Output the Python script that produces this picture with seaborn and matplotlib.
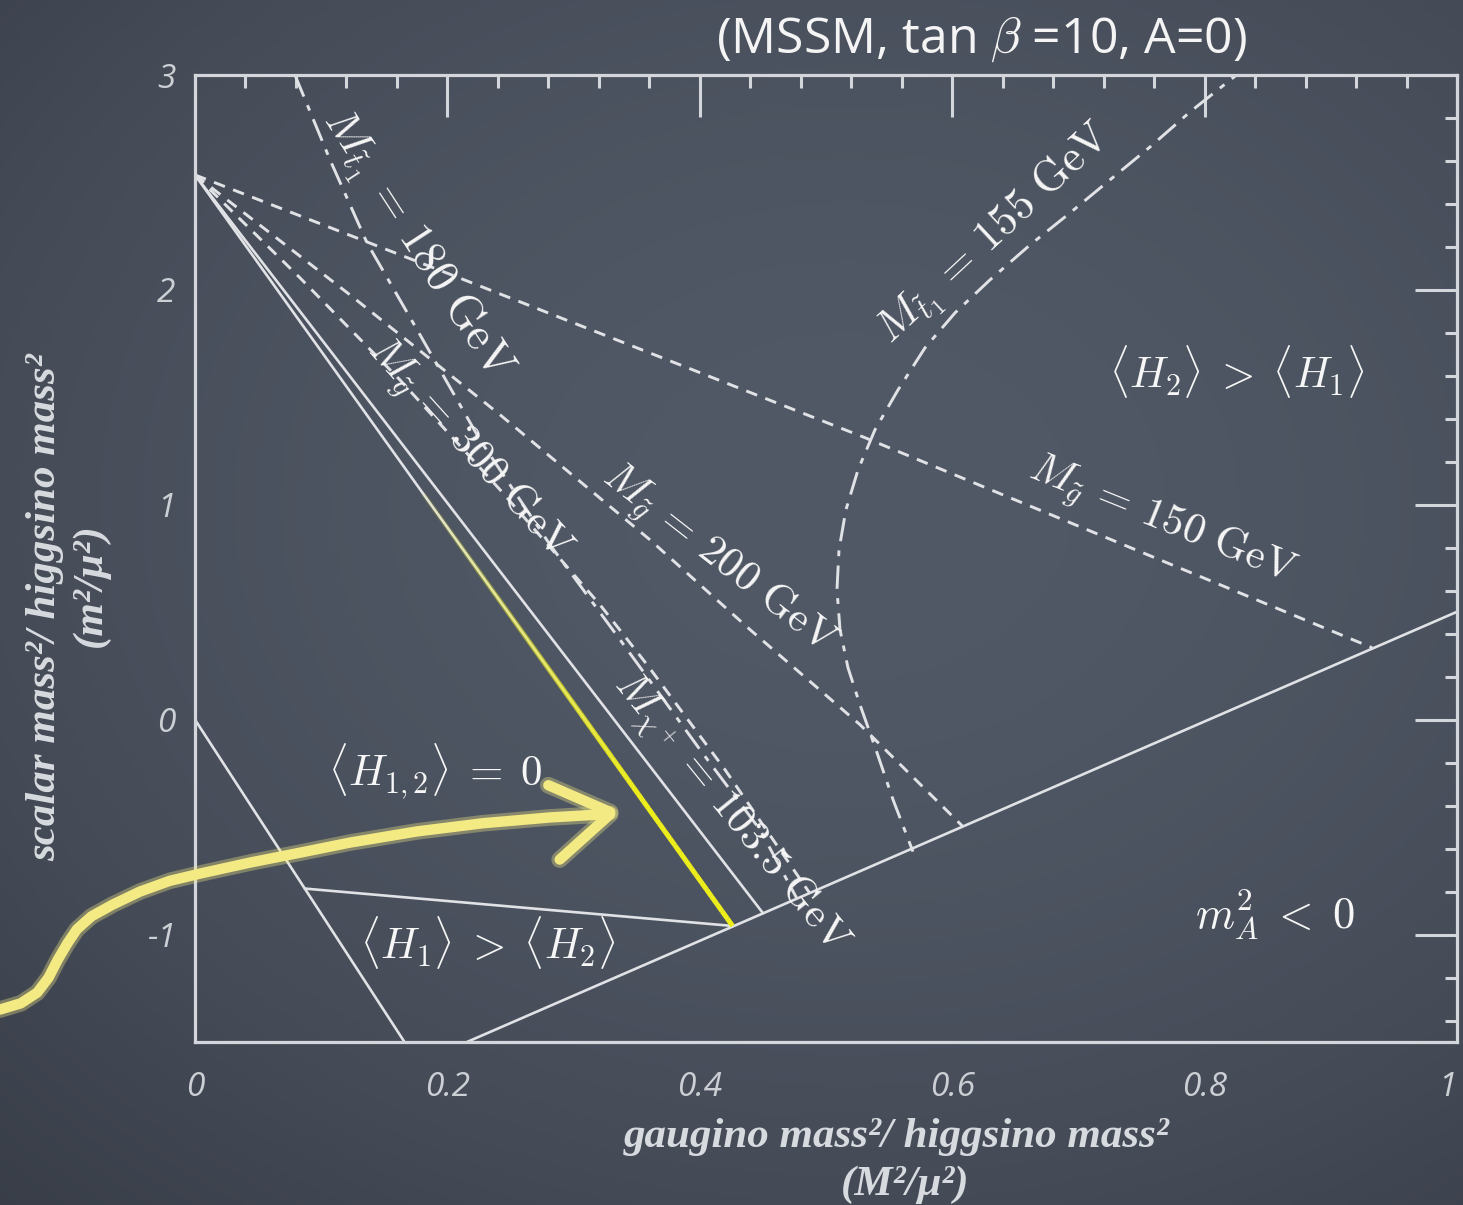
import numpy as np
import matplotlib
matplotlib.use("Agg")
import matplotlib.pyplot as plt
import matplotlib.patheffects as pe
from matplotlib.ticker import MultipleLocator
from matplotlib.collections import LineCollection
import seaborn as sns

# ---- region boundaries (x = M^2/mu^2, y = m^2/mu^2) ----
vev_zero_x = [0.0, 0.166]
vev_zero_y = [0.0, -1.5]
ma_neg_x = [0.2155, 1.0]
ma_neg_y = [-1.5, 0.502]
h1_h2_x = [0.087, 0.426]
h1_h2_y = [-0.786, -0.960]
edge_x = [0.0, 0.426]
edge_y = [2.535, -0.960]
chargino_x = [0.0, 0.450]
chargino_y = [2.535, -0.900]

# ---- gluino mass contours ----
gluino150_x = [0.0, 0.2076, 0.5293, 0.9327]
gluino150_y = [2.535, 2.060, 1.316, 0.335]
gluino200_x = [0.0, 0.1228, 0.2417, 0.3605, 0.4398, 0.5269, 0.6086]
gluino200_y = [2.535, 1.977, 1.419, 0.837, 0.419, -0.023, -0.498]
gluino300_x = [0.0, 0.0832, 0.1624, 0.2417, 0.3209, 0.3582, 0.4200, 0.4873]
gluino300_y = [2.535, 2.056, 1.581, 1.070, 0.535, 0.256, -0.233, -0.809]

# ---- stop mass contours ----
stop180_x = [0.0792, 0.1070, 0.1363, 0.1783, 0.2258, 0.2813, 0.3368, 0.4002, 0.4477, 0.4770]
stop180_y = [3.000, 2.605, 2.219, 1.791, 1.302, 0.814, 0.372, -0.140, -0.512, -0.833]
stop155_x = [0.8360, 0.7884, 0.7567, 0.7250, 0.6933, 0.6616, 0.6300, 0.6022, 0.5784,
             0.5571, 0.5388, 0.5254, 0.5158, 0.5103, 0.5087, 0.5111, 0.5174, 0.5269,
             0.5396, 0.5531, 0.5689]
stop155_y = [3.050, 2.828, 2.665, 2.512, 2.358, 2.209, 2.047, 1.893, 1.730,
             1.535, 1.349, 1.163, 0.977, 0.791, 0.605, 0.419, 0.242, 0.070,
             -0.140, -0.372, -0.614]

# highlighted stretch of the edge line (in y)
highlight_y_range = [1.05, -0.960]

# chalk arrow pointing at the highlighted edge
arrow_x = [-0.1545, -0.1380, -0.1250, -0.1160, -0.1090, -0.1010, -0.0935, -0.0820,
           -0.0650, -0.0436, -0.0200, 0.0050, 0.0436, 0.0832, 0.1228, 0.1759,
           0.2282, 0.2813, 0.3250]
arrow_y = [-1.349, -1.320, -1.270, -1.200, -1.120, -1.040, -0.975, -0.915,
           -0.860, -0.800, -0.750, -0.715, -0.665, -0.619, -0.572, -0.520,
           -0.482, -0.455, -0.440]
arrow_head1_x = [0.2800, 0.3290]
arrow_head1_y = [-0.305, -0.430]
arrow_head2_x = [0.3290, 0.2890]
arrow_head2_y = [-0.440, -0.651]

x_ticks = [0.0, 0.2, 0.4, 0.6, 0.8, 1.0]
x_tick_labels = ["0", "0.2", "0.4", "0.6", "0.8", "1"]
y_ticks = [-1, 0, 1, 2, 3]
y_tick_labels = ["-1", "0", "1", "2", "3"]

sns.set_style("dark")
plt.rcParams["mathtext.fontset"] = "cm"
plt.rcParams["font.family"] = ["DejaVu Sans"]

W, H = 1463, 1205
fig = plt.figure(figsize=(W / 100, H / 100), dpi=100)

# slate chalkboard backdrop
bg = fig.add_axes([0, 0, 1, 1], zorder=-10)
gy, gx = np.mgrid[0:1:400j, 0:1:480j]
r = np.sqrt(((gx - 0.58) / 0.85) ** 2 + ((gy - 0.42) / 0.80) ** 2)
r = np.clip(r, 0, 1) ** 2.0
c0 = np.array([0.318, 0.348, 0.400])
c1 = np.array([0.220, 0.240, 0.280])
img = c0[None, None, :] + (c1 - c0)[None, None, :] * r[..., None]
bg.imshow(img, extent=[0, 1, 0, 1], aspect="auto", origin="upper")
bg.set_axis_off()

ax = fig.add_axes([195 / W, 1 - 1042 / H, (1457 - 195) / W, (1042 - 75) / H])
ax.set_facecolor("none")
ax.set_xlim(0, 1)
ax.set_ylim(-1.5, 3)

axis_col = "#d3d6db"
line_col = "#e0e2e6"
text_col = "#f6f6f6"

for sp in ax.spines.values():
    sp.set_visible(True)
    sp.set_color(axis_col)
    sp.set_linewidth(2.3)

ax.set_xticks(x_ticks)
ax.set_xticklabels(x_tick_labels)
ax.set_yticks(y_ticks)
ax.set_yticklabels(y_tick_labels)
ax.xaxis.set_minor_locator(MultipleLocator(0.04))
ax.yaxis.set_minor_locator(MultipleLocator(0.2))
ax.tick_params(which="both", direction="in", top=True, right=True,
               color=axis_col, width=2.2)
ax.tick_params(which="major", length=30)
ax.tick_params(which="minor", length=9)
ax.tick_params(axis="x", which="major", pad=21)
ax.tick_params(axis="y", which="major", pad=14)
for lab in ax.get_xticklabels() + ax.get_yticklabels():
    lab.set_fontfamily("Open Sans")
    lab.set_fontstyle("italic")
    lab.set_fontsize(24)
    lab.set_color("#ccd0d5")
# keep the last x label inside the canvas
ax.get_xticklabels()[-1].set_horizontalalignment("right")
ax.grid(False)
ax.set_xlabel("")
ax.set_ylabel("")

solid_kw = dict(sort=False, estimator=None, color=line_col, linewidth=1.9, ax=ax)
for xs, ys in [(vev_zero_x, vev_zero_y), (ma_neg_x, ma_neg_y), (h1_h2_x, h1_h2_y),
               (edge_x, edge_y), (chargino_x, chargino_y)]:
    sns.lineplot(x=xs, y=ys, **solid_kw)

dash_gluino = (0, (4.0, 3.0))
for xs, ys in [(gluino150_x, gluino150_y), (gluino200_x, gluino200_y),
               (gluino300_x, gluino300_y)]:
    sns.lineplot(x=xs, y=ys, sort=False, estimator=None, color=line_col,
                 linewidth=2.1, linestyle=dash_gluino, ax=ax)

dash_stop = (0, (8.0, 3.2, 2.0, 3.2))
for xs, ys in [(stop180_x, stop180_y), (stop155_x, stop155_y)]:
    sns.lineplot(x=xs, y=ys, sort=False, estimator=None, color=line_col,
                 linewidth=2.1, linestyle=dash_stop, ax=ax)

# yellow highlight along the edge line, strengthening toward its lower end
hy = np.linspace(highlight_y_range[0], highlight_y_range[1], 60)
hx = np.interp(hy, edge_y[::-1], edge_x[::-1])
pts = np.column_stack([hx, hy]).reshape(-1, 1, 2)
segs = np.concatenate([pts[:-1], pts[1:]], axis=1)
alphas = np.clip(np.linspace(0.1, 1.4, len(segs)), 0, 1)
cols = [(0.93, 0.93, 0.10, a) for a in alphas]
ax.add_collection(LineCollection(segs, colors=cols, linewidths=3.6, zorder=4))

# labels
lab_kw = dict(color=text_col, ha="center", va="center", zorder=6)
ax.text(0.1743, 2.209, r"$M_{\tilde{t}_1}\,=\,180\ \mathrm{GeV}$", rotation=-57,
        fontsize=33, **lab_kw)
ax.text(0.2163, 1.256, r"$M_{\tilde{g}}\,=\,300\ \mathrm{GeV}$", rotation=-48,
        fontsize=31, **lab_kw)
ax.text(0.4144, 0.744, r"$M_{\tilde{g}}\,=\,200\ \mathrm{GeV}$", rotation=-38,
        fontsize=31, **lab_kw)
ax.text(0.7662, 0.921, r"$M_{\tilde{g}}\,=\,150\ \mathrm{GeV}$", rotation=-22,
        fontsize=31, **lab_kw)
ax.text(0.6339, 2.256, r"$M_{\tilde{t}_1}\,=\,155\ \mathrm{GeV}$", rotation=43,
        fontsize=32, **lab_kw)
ax.text(0.4239, -0.442, r"$M_{\chi^+}\,=\,103.5\ \mathrm{GeV}$", rotation=-51,
        fontsize=31, **lab_kw)
ax.text(0.1902, -0.242, r"$\langle H_{1,2}\rangle\;=\;0$", fontsize=31, **lab_kw)
ax.text(0.2322, -1.037, r"$\langle H_1\rangle\;>\;\langle H_2\rangle$", fontsize=31, **lab_kw)
ax.text(0.8257, 1.619, r"$\langle H_2\rangle\;>\;\langle H_1\rangle$", fontsize=31, **lab_kw)
ax.text(0.8558, -0.907, r"$m_A^2\;<\;0$", fontsize=32, **lab_kw)

# chalk arrow
chalk = "#f3ea84"
arrow_fx = [pe.Stroke(linewidth=12, foreground=chalk, alpha=0.35), pe.Normal()]
for xs, ys in [(arrow_x, arrow_y), (arrow_head1_x, arrow_head1_y),
               (arrow_head2_x, arrow_head2_y)]:
    ax.plot(xs, ys, color=chalk, linewidth=7.5, solid_capstyle="round",
            solid_joinstyle="round", clip_on=False, zorder=7, path_effects=arrow_fx)

# axis titles
ax_lab = dict(color="#d7dade", fontfamily="Liberation Serif", fontstyle="italic",
              fontweight="bold", fontsize=31, ha="center", va="center")
fig.text(897 / W, 1 - 1137 / H, "gaugino mass²/ higgsino mass²", **ax_lab)
fig.text(905 / W, 1 - 1185 / H, "(M²/μ²)", **ax_lab)
fig.text(45 / W, 1 - 607 / H, "scalar mass²/ higgsino mass²", rotation=90, **ax_lab)
fig.text(91 / W, 1 - 585 / H, "(m²/μ²)", rotation=90, **ax_lab)

fig.text(982 / W, 1 - 40 / H, r"(MSSM, tan $\beta$ =10, A=0)", color="#f4f4f4",
         fontfamily="Open Sans", fontsize=36, ha="center", va="center")

fig.savefig("out.png", dpi=100)
